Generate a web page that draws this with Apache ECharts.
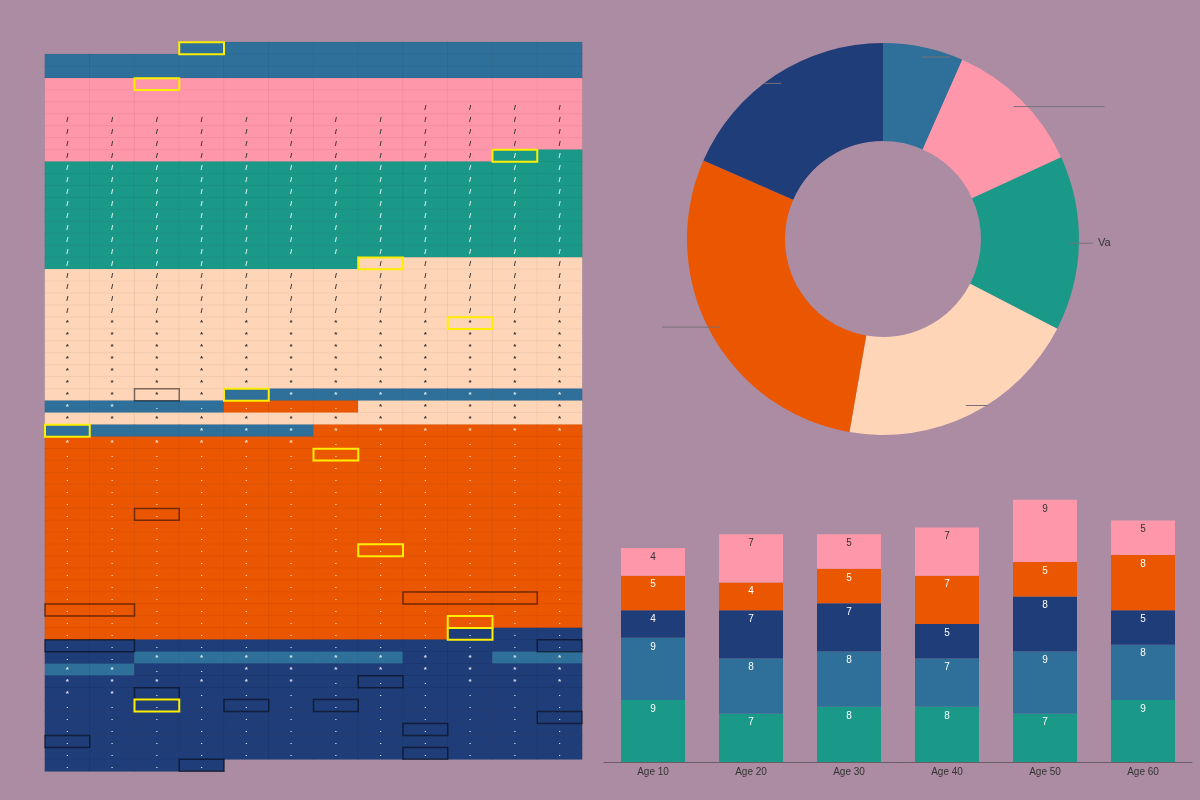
<!DOCTYPE html>
<html>
<head>
<meta charset="utf-8">
<script src="https://cdn.jsdelivr.net/npm/echarts@6/dist/echarts.min.js"></script>
<style>
html,body{margin:0;padding:0;background:#ab8ca2;}
#main{width:1200px;height:800px;}
</style>
</head>
<body>
<div id="main"></div>
<script>
// cell colours of the grid on the left, one letter per cell, '-' = no cell
var colKeys = 'BPTCON';
var cellColors = ['#2e7099', '#ff97aa', '#1a9988', '#ffd5b8', '#eb5600', '#1f3d78'];
var lightKeys = 'PC';

var gridRows = [
    '---BBBBBBBBB',
    'BBBBBBBBBBBB',
    'BBBBBBBBBBBB',
    'PPPPPPPPPPPP',
    'PPPPPPPPPPPP',
    'PPPPPPPPPPPP',
    'PPPPPPPPPPPP',
    'PPPPPPPPPPPP',
    'PPPPPPPPPPPP',
    'PPPPPPPPPPTT',
    'TTTTTTTTTTTT',
    'TTTTTTTTTTTT',
    'TTTTTTTTTTTT',
    'TTTTTTTTTTTT',
    'TTTTTTTTTTTT',
    'TTTTTTTTTTTT',
    'TTTTTTTTTTTT',
    'TTTTTTTTTTTT',
    'TTTTTTTCCCCC',
    'CCCCCCCCCCCC',
    'CCCCCCCCCCCC',
    'CCCCCCCCCCCC',
    'CCCCCCCCCCCC',
    'CCCCCCCCCCCC',
    'CCCCCCCCCCCC',
    'CCCCCCCCCCCC',
    'CCCCCCCCCCCC',
    'CCCCCCCCCCCC',
    'CCCCCCCCCCCC',
    'CCCCBBBBBBBB',
    'BBBBOOOCCCCC',
    'CCCCCCCCCCCC',
    'BBBBBBOOOOOO',
    'OOOOOOOOOOOO',
    'OOOOOOOOOOOO',
    'OOOOOOOOOOOO',
    'OOOOOOOOOOOO',
    'OOOOOOOOOOOO',
    'OOOOOOOOOOOO',
    'OOOOOOOOOOOO',
    'OOOOOOOOOOOO',
    'OOOOOOOOOOOO',
    'OOOOOOOOOOOO',
    'OOOOOOOOOOOO',
    'OOOOOOOOOOOO',
    'OOOOOOOOOOOO',
    'OOOOOOOOOOOO',
    'OOOOOOOOOOOO',
    'OOOOOOOOOOOO',
    'OOOOOOOOONNN',
    'NNNNNNNNNNNN',
    'NNBBBBBBNNBB',
    'BBNNNNNNNNNN',
    'NNNNNNNNNNNN',
    'NNNNNNNNNNNN',
    'NNNNNNNNNNNN',
    'NNNNNNNNNNNN',
    'NNNNNNNNNNNN',
    'NNNNNNNNNNNN',
    'NNNNNNNNNNNN',
    'NNNN--------'
];

// the small mark printed in each cell
var markRows = [
    '            ',
    '            ',
    '            ',
    '            ',
    '            ',
    '        ////',
    '////////////',
    '////////////',
    '////////////',
    '////////////',
    '////////////',
    '////////////',
    '////////////',
    '////////////',
    '////////////',
    '////////////',
    '////////////',
    '////////////',
    '/////  /////',
    '////////////',
    '////////////',
    '////////////',
    '////////////',
    '************',
    '************',
    '************',
    '************',
    '************',
    '************',
    '**** *******',
    '**.....*****',
    '************',
    '   *********',
    '******......',
    '............',
    '............',
    '............',
    '............',
    '............',
    '............',
    '............',
    '............',
    '............',
    '............',
    '............',
    '............',
    '............',
    '............',
    '............',
    '............',
    '............',
    '..**********',
    '**..********',
    '******...***',
    '**..........',
    '............',
    '............',
    '............',
    '............',
    '............',
    '............'
];

// outlined cells: [first col, row, last col, kind] kind 0 = yellow, 1 = dark
var outlines = [
    [3, 0, 3, 0], [2, 3, 2, 0], [10, 9, 10, 0], [7, 18, 7, 0], [9, 23, 9, 0],
    [4, 29, 4, 0], [2, 29, 2, 1], [0, 32, 0, 0], [6, 34, 6, 0], [2, 39, 2, 1],
    [7, 42, 7, 0], [8, 46, 10, 1], [0, 47, 1, 1], [9, 48, 9, 0], [9, 49, 9, 0],
    [0, 50, 1, 1], [11, 50, 11, 1], [7, 53, 7, 1], [2, 54, 2, 1], [2, 55, 2, 0],
    [4, 55, 4, 1], [6, 55, 6, 1], [11, 56, 11, 1], [8, 57, 8, 1], [0, 58, 0, 1],
    [8, 59, 8, 1], [3, 60, 3, 1]
];

// donut
var pieNames = ['A', 'B', 'C', 'D', 'E', 'F'];
var pieValues = [23, 40, 50, 70, 100, 64];
var pieColors = ['#2e7099', '#ff97aa', '#1a9988', '#ffd5b8', '#eb5600', '#1f3d78'];
var pieTexts = ['', '', 'Va', '', '', ''];
var pieLine2 = [29, 91, 24, 22, 57, 17];

// stacked bars
var ages = ['Age 10', 'Age 20', 'Age 30', 'Age 40', 'Age 50', 'Age 60'];
var barNames = ['S1', 'S2', 'S3', 'S4', 'S5'];
var barColors = ['#1a9988', '#2e7099', '#1f3d78', '#eb5600', '#ff97aa'];
var barLabelColors = ['#fff', '#fff', '#fff', '#fff', '#333'];
var s1 = [9, 7, 8, 8, 7, 9];
var s2 = [9, 8, 8, 7, 9, 8];
var s3 = [4, 7, 7, 5, 8, 5];
var s4 = [5, 4, 5, 7, 5, 8];
var s5 = [4, 7, 5, 7, 9, 5];
var barData = [s1, s2, s3, s4, s5];

var chart = echarts.init(document.getElementById('main'));

var heatCols = [];
for (var c = 0; c < 12; c++) heatCols.push(String(c));
var heatRows = [];
var heatData = [];
for (var r = 0; r < gridRows.length; r++) {
    heatRows.push(String(r));
    for (var c = 0; c < 12; c++) {
        var k = colKeys.indexOf(gridRows[r].charAt(c));
        if (k >= 0) heatData.push([c, r, k]);
    }
}

// coloured ring, and a see-through smaller copy on top that carries the label lines
var pieData = [];
var pieLineData = [];
for (var i = 0; i < pieValues.length; i++) {
    pieData.push({name: pieNames[i], value: pieValues[i], itemStyle: {color: pieColors[i]}});
    pieLineData.push({
        name: pieNames[i],
        value: pieValues[i],
        itemStyle: {color: 'rgba(0,0,0,0)'},
        labelLine: {length: 0, length2: pieLine2[i]}
    });
}

var series = [
    {
        type: 'heatmap',
        xAxisIndex: 0,
        yAxisIndex: 0,
        data: heatData,
        progressive: 0,
        itemStyle: {borderColor: 'rgba(0,0,0,0.045)', borderWidth: 1},
        label: {
            show: true,
            formatter: function (p) {
                var ch = markRows[p.data[1]].charAt(p.data[0]);
                if (!ch || ch == ' ') return '';
                var light = lightKeys.indexOf(gridRows[p.data[1]].charAt(p.data[0])) >= 0;
                return '{' + (light ? 'd' : 'w') + '|' + ch + '}';
            },
            rich: {
                d: {color: '#333', fontSize: 8, fontWeight: 'bold'},
                w: {color: 'rgba(255,255,255,0.85)', fontSize: 8, fontWeight: 'bold'}
            }
        },
        emphasis: {disabled: true}
    },
    {
        type: 'custom',
        xAxisIndex: 0,
        yAxisIndex: 0,
        data: outlines,
        z: 5,
        silent: true,
        renderItem: function (params, api) {
            var c0 = api.value(0), row = api.value(1), c1 = api.value(2), kind = api.value(3);
            var p = api.coord([c0, row]);
            var s = api.size([1, 1]);
            return {
                type: 'rect',
                shape: {x: p[0] - s[0] / 2, y: p[1] - s[1] / 2, width: s[0] * (c1 - c0 + 1), height: s[1]},
                style: {
                    fill: 'none',
                    stroke: kind == 0 ? '#ffee00' : 'rgba(0,0,0,0.5)',
                    lineWidth: kind == 0 ? 2 : 1.5
                }
            };
        }
    },
    {
        type: 'pie',
        center: [883, 239],
        radius: [98, 196],
        startAngle: 90,
        silent: true,
        data: pieData,
        label: {show: false},
        labelLine: {show: false}
    },
    {
        type: 'pie',
        center: [883, 239],
        radius: [98, 186],
        startAngle: 90,
        z: 6,
        avoidLabelOverlap: false,
        silent: true,
        data: pieLineData,
        label: {
            show: true,
            color: '#333',
            fontSize: 11,
            formatter: function (p) { return pieTexts[p.dataIndex] || ' '; }
        },
        labelLine: {show: true, lineStyle: {color: '#77707a', width: 1}}
    }
];

for (var j = 0; j < barData.length; j++) {
    series.push({
        type: 'bar',
        name: barNames[j],
        stack: 'age',
        xAxisIndex: 1,
        yAxisIndex: 1,
        barWidth: 64,
        data: barData[j],
        itemStyle: {color: barColors[j]},
        label: {show: true, position: 'insideTop', distance: 4, fontSize: 10, color: barLabelColors[j]}
    });
}

var option = {
    backgroundColor: '#ab8ca2',
    animation: false,
    grid: [
        {left: 45, top: 42.3, width: 537, height: 729},
        {left: 604, top: 486, width: 588, height: 276}
    ],
    xAxis: [
        {type: 'category', gridIndex: 0, data: heatCols, show: false},
        {
            type: 'category', gridIndex: 1, data: ages,
            axisLine: {lineStyle: {color: '#6a5d66'}},
            axisTick: {show: false},
            axisLabel: {color: '#333', fontSize: 10, margin: 5}
        }
    ],
    yAxis: [
        {type: 'category', gridIndex: 0, data: heatRows, inverse: true, show: false},
        {type: 'value', gridIndex: 1, max: 40, show: false, splitLine: {show: false}}
    ],
    visualMap: [{
        type: 'piecewise',
        show: false,
        seriesIndex: 0,
        dimension: 2,
        pieces: cellColors.map(function (col, i) { return {value: i, color: col}; })
    }],
    series: series
};

chart.setOption(option);
window.onresize = chart.resize;
</script>
</body>
</html>
